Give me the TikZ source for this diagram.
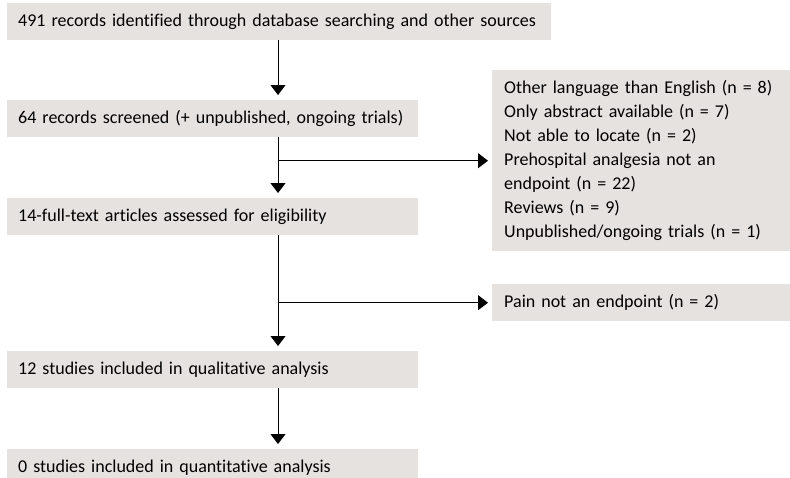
\documentclass[tikz,border=0pt]{standalone}
\usepackage{fontspec}
\setmainfont[Ligatures=NoCommon]{Carlito}
\usetikzlibrary{arrows.meta}
\definecolor{boxgray}{RGB}{230,226,223}
\begin{document}
\begin{tikzpicture}[x=1pt,y=-1pt,
  lbox/.style={fill=boxgray, draw=none, anchor=north west, minimum height=37pt,
    inner xsep=11pt, inner ysep=0pt, text width=389pt, align=left,
    font=\fontsize{18}{24}\selectfont},
  rbox/.style={lbox, inner xsep=12pt, text width=274pt},
  arr/.style={line width=1pt, -{Triangle[width=15pt,length=10pt]}, shorten >=5pt}]
\useasboundingbox (0,0) rectangle (790,477);
\clip (0,0) rectangle (790,477);
\node[lbox, text width=522pt] (b1) at (7,3) {491 records identified through database searching and other sources};
\node[lbox] (b2) at (7,100) {64 records screened (+ unpublished, ongoing trials)};
\node[lbox] (b3) at (7,198) {14-full-text articles assessed for eligibility};
\node[lbox] (b4) at (7,351) {12 studies included in qualitative analysis};
\node[lbox] (b5) at (7,449) {0 studies included in quantitative analysis};
\node[rbox, minimum height=181pt] (r1) at (492,70) {Other language than English (n = 8)\\
Only abstract available (n = 7)\\
Not able to locate (n = 2)\\
Prehospital analgesia not an\\
endpoint (n = 22)\\
Reviews (n = 9)\\
Unpublished/ongoing trials (n = 1)};
\node[rbox] (r2) at (492,284) {Pain not an endpoint (n = 2)};
\coordinate (sp) at (278,0);
\draw[arr] (b1.south -| sp) -- (b2.north -| sp);
\draw[arr] (b2.south -| sp) -- (b3.north -| sp);
\draw[arr, shorten >=4pt] (b2.south -| sp) |- (r1.west);
\draw[arr] (b3.south -| sp) -- (b4.north -| sp);
\draw[arr, shorten >=4pt] (b3.south -| sp) |- (r2.west);
\draw[arr] (b4.south -| sp) -- (b5.north -| sp);
\end{tikzpicture}
\end{document}
